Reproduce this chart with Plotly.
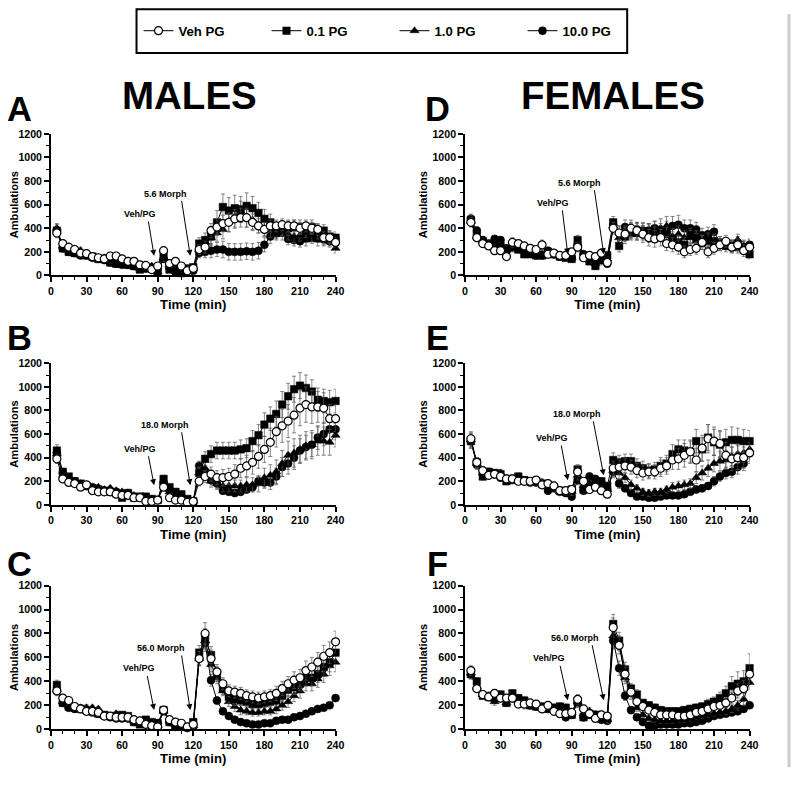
import plotly.graph_objects as go

W, H = 792, 765
OFF_X, OFF_Y = 8, 14     # page offsets of the figure
VIEW_SCALE = 0.987       # observed shrink of the photographed page
time_min = list(range(5, 245, 5))
series_names = ["Veh PG", "0.1 PG", "1.0 PG", "10.0 PG"]
panel_letters = ["A", "B", "C", "D", "E", "F"]
morph_labels = ["5.6 Morph", "18.0 Morph", "56.0 Morph", "5.6 Morph", "18.0 Morph", "56.0 Morph"]
x_ticks = [0, 30, 60, 90, 120, 150, 180, 210, 240]
y_ticks = [0, 200, 400, 600, 800, 1000, 1200]

# ---- Panel A (males, 5.6 morph)
A_veh = [360,270,240,220,190,185,160,150,140,165,165,140,120,120,90,85,50,80,210,100,120,80,40,60,220,240,380,410,440,450,480,490,490,450,420,390,420,420,430,420,420,400,420,400,390,320,320,280]
A_01 = [380,230,200,190,180,170,160,140,140,110,100,100,90,80,50,60,60,30,180,50,50,20,60,70,270,300,330,450,580,550,570,560,590,570,530,480,450,360,400,400,410,410,380,410,370,380,330,320]
A_10 = [400,250,230,200,210,180,160,150,150,120,110,100,90,90,60,70,80,30,150,90,70,40,30,60,220,280,320,360,390,460,500,540,500,470,430,400,380,360,350,350,330,340,300,340,300,300,290,230]
A_100 = [370,230,200,190,170,170,150,140,130,110,100,90,90,80,60,60,50,60,140,60,30,40,50,40,190,200,210,220,220,200,200,200,205,200,210,260,330,380,380,310,300,290,330,320,330,310,290,310]
# ---- Panel B (males, 18.0 morph)
B_veh = [390,220,190,180,150,170,120,110,110,110,90,80,80,60,60,30,30,40,150,60,40,40,20,30,200,240,260,230,230,240,260,310,330,360,410,470,530,620,670,710,760,820,850,830,830,820,730,730]
B_01 = [460,280,240,200,180,160,140,130,120,110,100,60,100,60,70,70,50,40,220,150,110,90,50,30,270,390,430,460,460,460,460,470,480,540,590,680,730,770,850,920,980,1010,990,960,890,880,870,880]
B_10 = [430,250,220,190,180,160,140,150,130,140,120,110,100,80,70,60,50,40,190,110,90,60,40,30,270,310,200,180,160,160,160,160,170,170,180,230,250,280,350,420,440,470,500,510,540,540,530,590]
B_100 = [440,270,220,200,170,160,150,130,120,120,110,80,100,70,60,50,40,40,190,130,90,70,30,30,330,270,210,180,120,110,100,110,130,150,200,190,190,240,320,350,400,460,490,510,570,600,640,640]
# ---- Panel C (males, 56.0 morph)
C_veh = [320,260,240,190,170,150,150,140,110,110,100,100,100,80,70,40,30,20,160,80,60,50,20,40,590,800,590,480,380,320,310,300,280,270,260,270,280,300,340,380,410,430,490,520,560,610,640,730]
C_01 = [370,220,190,180,170,160,150,130,120,110,110,120,110,60,40,80,60,50,160,60,30,20,20,60,640,760,620,460,340,270,250,240,230,210,210,220,230,240,280,330,350,380,430,430,460,520,560,640]
C_10 = [330,230,200,190,180,180,180,170,110,100,130,110,90,70,60,60,40,30,150,70,40,30,20,30,590,740,540,430,320,230,190,160,150,140,140,150,150,170,200,230,280,320,380,380,420,460,530,560]
C_100 = [330,220,180,170,170,150,140,130,110,100,90,90,90,60,50,60,40,50,150,60,20,20,10,20,590,720,410,240,150,110,80,60,50,40,40,50,50,70,80,80,100,110,130,150,170,180,200,260]
# ---- Panel D (females, 5.6 morph)
D_veh = [450,320,270,250,210,210,160,280,270,250,230,220,260,180,190,170,170,200,240,150,170,160,190,110,400,360,350,400,380,350,320,310,320,270,260,240,200,220,230,280,200,230,260,290,240,260,210,240]
D_01 = [470,340,290,260,260,250,220,240,220,180,180,170,170,200,180,160,150,140,300,160,120,80,130,170,450,250,330,360,360,360,370,350,380,350,310,280,260,340,320,280,300,290,260,250,250,240,240,180]
D_10 = [460,330,290,260,250,240,220,230,230,210,200,200,180,190,180,170,160,150,270,160,130,100,120,140,420,320,360,380,370,380,360,380,400,420,330,350,320,320,290,290,280,270,280,270,250,300,250,250]
D_100 = [480,380,300,270,310,300,230,240,230,220,200,170,170,210,180,160,160,150,260,180,130,110,150,100,430,360,410,380,390,380,380,400,360,390,420,430,400,400,390,340,350,370,280,270,250,280,240,260]
# ---- Panel E (females, 18.0 morph)
E_veh = [560,360,290,250,260,240,220,220,200,200,200,210,170,180,160,120,120,130,280,200,130,150,120,90,310,320,330,320,290,270,280,280,310,330,380,390,420,450,380,480,560,540,520,420,390,400,400,440]
E_01 = [540,360,240,280,270,260,200,220,240,210,200,200,180,160,150,120,110,130,300,130,150,190,200,160,380,360,370,370,330,310,290,300,330,350,430,470,460,450,540,470,570,530,510,530,550,550,540,540]
E_10 = [550,350,270,280,260,270,220,210,220,210,200,200,190,170,150,110,110,110,250,160,180,170,180,130,290,270,230,170,140,110,100,110,110,130,150,160,170,180,230,270,310,350,370,380,410,430,440,470]
E_100 = [540,340,280,260,260,230,220,210,220,200,190,190,170,120,140,110,100,70,210,120,240,220,190,130,280,180,140,100,70,70,60,60,70,80,80,80,90,110,130,140,160,200,240,270,280,320,350,440]
# ---- Panel F (females, 56.0 morph)
F_veh = [490,340,290,270,300,260,260,260,210,210,220,210,170,200,150,130,130,140,250,170,130,90,120,110,850,700,460,310,230,190,160,140,120,120,120,110,110,120,140,150,170,190,200,220,260,320,340,460]
F_01 = [460,400,280,270,260,290,220,300,260,240,200,190,190,170,180,190,180,120,230,100,130,120,90,100,880,740,500,340,290,220,200,180,160,150,150,150,160,170,180,190,210,230,260,300,360,380,400,510]
F_10 = [470,350,290,280,230,260,220,260,250,200,210,190,180,190,160,160,160,140,230,130,150,110,100,80,780,720,430,290,180,120,90,80,70,70,70,80,80,90,100,110,120,130,140,150,170,200,250,390]
F_100 = [460,340,290,270,250,260,250,260,230,220,200,190,180,170,160,150,100,120,220,100,120,120,80,70,740,510,280,160,100,60,30,30,40,40,40,40,50,50,60,70,90,110,120,130,140,150,170,200]

# ---- SEM estimates
A_veh_e = [40,30,25,25,25,25,25,20,20,30,30,25,25,25,20,20,20,25,30,25,25,20,20,20,40,50,60,70,70,80,80,80,80,70,60,60,50,50,50,50,50,50,50,50,50,50,50,40]
A_01_e = [50,30,25,25,25,25,20,20,20,20,20,20,20,20,20,20,20,20,30,20,20,15,20,20,50,60,80,100,110,110,110,110,110,100,90,80,70,60,60,60,60,60,60,60,60,50,50,50]
A_10_e = [40,30,25,25,30,25,20,20,20,20,20,20,20,20,20,20,20,20,30,20,20,20,20,20,40,50,60,70,80,90,90,90,90,80,70,60,60,50,50,50,50,50,50,50,50,50,50,40]
A_100_e = [40,30,25,25,25,20,20,20,20,20,20,20,20,20,20,20,20,20,30,20,20,20,20,20,40,50,60,60,70,70,70,70,70,70,70,60,60,60,50,50,50,50,50,50,50,50,40,40]
B_veh_e = [40,30,25,25,25,25,20,20,20,20,20,20,20,20,20,20,20,20,30,20,20,20,20,20,40,50,60,60,70,70,80,80,90,100,100,110,120,130,140,140,150,150,150,140,130,130,120,110]
B_01_e = [50,30,25,25,25,25,20,20,20,20,20,20,20,20,20,20,20,20,30,20,20,20,20,20,50,60,70,70,70,70,70,80,80,90,90,100,100,110,110,110,110,110,110,100,100,100,100,100]
B_10_e = [40,30,25,25,25,25,20,20,20,20,20,20,20,20,20,20,20,20,30,20,20,20,20,20,40,50,50,50,50,50,50,50,60,60,70,80,90,100,110,120,120,120,120,120,120,120,110,100]
B_100_e = [40,30,25,25,25,25,20,20,20,20,20,20,20,20,20,20,20,20,30,20,20,20,20,20,40,40,40,40,30,30,30,30,30,40,40,50,60,70,80,90,100,100,100,100,100,100,100,90]
C_veh_e = [40,30,25,25,25,25,20,20,20,20,20,20,20,20,20,20,20,20,30,20,20,20,20,20,60,90,70,60,50,50,50,50,50,50,50,50,50,60,60,60,70,70,80,80,80,90,90,90]
C_01_e = [40,30,25,25,25,25,20,20,20,20,20,20,20,20,20,20,20,20,30,20,20,20,20,20,60,80,70,60,50,50,50,40,40,40,40,40,40,50,50,60,60,60,70,70,70,80,80,80]
C_10_e = [40,30,25,25,25,25,20,20,20,20,20,20,20,20,20,20,20,20,30,20,20,20,20,20,60,70,60,50,40,40,40,40,30,30,30,30,30,40,40,50,50,60,60,60,70,70,80,80]
C_100_e = [40,30,25,25,25,25,20,20,20,20,20,20,20,20,20,20,20,20,30,20,20,20,20,20,50,70,50,30,20,20,15,15,15,15,15,15,15,15,15,15,20,20,20,20,20,20,20,30]
D_veh_e = [40,30,30,30,30,30,30,40,30,30,30,30,40,30,30,30,30,30,40,30,30,30,30,30,50,60,60,70,70,70,70,70,70,60,60,60,50,50,50,60,50,50,50,50,50,50,50,50]
D_01_e = [40,30,30,30,30,30,30,30,30,30,30,30,30,30,30,30,30,30,40,30,30,30,30,30,50,50,60,60,60,60,60,60,60,60,60,60,60,60,60,60,60,60,50,50,50,50,50,40]
D_10_e = [40,30,30,30,30,30,30,30,30,30,30,30,30,30,30,30,30,30,40,30,30,30,30,30,50,60,60,70,70,70,80,80,80,80,70,70,60,60,60,50,50,50,50,50,50,50,50,50]
D_100_e = [40,30,30,30,30,30,30,30,30,30,30,30,30,30,30,30,30,30,40,30,30,30,30,30,50,60,60,60,60,60,60,60,60,70,80,80,70,70,60,60,60,60,50,50,50,50,50,50]
E_veh_e = [60,40,30,30,30,30,30,30,30,30,30,30,30,30,30,30,30,30,40,30,30,30,30,30,60,60,60,60,60,60,60,60,70,70,80,90,100,100,100,110,120,120,110,110,100,100,90,90]
E_01_e = [60,40,30,30,30,30,30,30,30,30,30,30,30,30,30,30,30,30,40,30,30,30,30,30,60,60,60,60,60,60,60,60,70,70,80,80,90,90,100,100,110,110,110,110,110,100,100,90]
E_10_e = [60,40,30,30,30,30,30,30,30,30,30,30,30,30,30,30,30,30,40,30,30,30,30,30,50,50,40,40,30,30,30,30,30,30,40,40,40,40,50,60,70,70,80,80,80,80,80,80]
E_100_e = [60,40,30,30,30,30,30,30,30,30,30,30,30,30,30,30,30,30,40,30,30,30,30,30,50,40,30,20,20,20,20,20,20,20,20,20,20,20,30,30,30,40,40,50,50,60,60,70]
F_veh_e = [40,30,30,30,30,30,30,30,30,30,30,30,30,30,30,30,30,30,40,30,30,30,30,30,80,70,60,40,30,30,30,20,20,20,20,20,20,20,20,20,30,30,30,40,50,60,70,80]
F_01_e = [40,30,30,30,30,30,30,30,30,30,30,30,30,30,30,30,30,30,40,30,30,30,30,30,80,70,60,40,40,30,30,30,30,30,30,30,30,30,30,30,40,40,50,60,80,100,90,120]
F_10_e = [40,30,30,30,30,30,30,30,30,30,30,30,30,30,30,30,30,30,40,30,30,30,30,30,70,60,50,40,30,20,20,20,20,20,20,20,20,20,20,20,20,20,20,30,30,40,50,60]
F_100_e = [40,30,30,30,30,30,30,30,30,30,30,30,30,30,30,30,30,30,40,30,30,30,30,30,70,60,40,30,20,20,20,20,20,20,20,20,20,20,20,20,20,20,20,20,20,20,20,30]

panels = [
    ([A_veh, A_01, A_10, A_100], [A_veh_e, A_01_e, A_10_e, A_100_e]),
    ([B_veh, B_01, B_10, B_100], [B_veh_e, B_01_e, B_10_e, B_100_e]),
    ([C_veh, C_01, C_10, C_100], [C_veh_e, C_01_e, C_10_e, C_100_e]),
    ([D_veh, D_01, D_10, D_100], [D_veh_e, D_01_e, D_10_e, D_100_e]),
    ([E_veh, E_01, E_10, E_100], [E_veh_e, E_01_e, E_10_e, E_100_e]),
    ([F_veh, F_01, F_10, F_100], [F_veh_e, F_01_e, F_10_e, F_100_e]),
]

# annotation positions (data units) per panel: veh text, veh tail, veh tip, morph text, morph tail, morph tip
ann_pos = [
    ((75, 520), (82, 470), (87, 166), (97, 694), (110, 645), (117.5, 166)),
    ((75, 475), (82, 425), (87, 166), (96, 677), (110, 628), (117.5, 166)),
    ((74, 508), (81, 458), (87, 160), (93, 676), (110, 628), (117.5, 160)),
    ((74, 615), (82, 565), (86.7, 180), (97, 784), (109, 735), (117, 180)),
    ((73, 565), (81, 515), (86.7, 208), (94.5, 770), (108, 720), (117, 250)),
    ((71, 592), (80, 542), (86.7, 243), (93, 765), (107, 715), (117, 243)),
]

FONT = "Liberation Sans, Arial, sans-serif"

def px_x(p):
    return (p / VIEW_SCALE - OFF_X) / W

def px_y(p):
    return 1 - (p / VIEW_SCALE - OFF_Y) / H

def fs(v):
    return v / VIEW_SCALE

x_domains = [(46, 332), (46, 332), (46, 332), (462, 748), (462, 748), (462, 748)]
y_domains = [(134, 276), (364, 506), (587, 731), (134, 276), (364, 506), (587, 731)]

marker_styles = [
    dict(symbol="circle", size=8, color="white", line=dict(color="black", width=1.2)),
    dict(symbol="square", size=7.5, color="black", line=dict(color="black", width=0.5)),
    dict(symbol="triangle-up", size=8, color="black", line=dict(color="black", width=0.5)),
    dict(symbol="circle", size=8, color="black", line=dict(color="black", width=0.5)),
]

fig = go.Figure()
layout = dict()
annotations = []
draw_order = [3, 2, 1, 0]
for i, (vals, errs) in enumerate(panels):
    ax_id = "" if i == 0 else str(i + 1)
    xa, ya = "x" + ax_id, "y" + ax_id
    for s in draw_order:
        fig.add_trace(go.Scatter(
            x=time_min, y=vals[s], mode="lines+markers", name=series_names[s],
            xaxis=xa, yaxis=ya, showlegend=(i == 0), legendrank=s,
            line=dict(color="black", width=1), marker=marker_styles[s],
            error_y=dict(type="data", array=errs[s], visible=True, color="#555", thickness=0.7, width=2),
            cliponaxis=False,
        ))
    xd, yd = x_domains[i], y_domains[i]
    layout["xaxis" + ax_id] = dict(
        domain=[px_x(xd[0]), px_x(xd[1])], range=[0, 240], anchor=ya,
        tickvals=x_ticks, ticks="outside", ticklen=5, tickwidth=1.5, tickcolor="black",
        showline=True, linewidth=1.5, linecolor="black", showgrid=False, zeroline=False,
        minor=dict(dtick=10, tick0=0, ticks="outside", ticklen=3, tickwidth=1.2, tickcolor="black", showgrid=False),
        tickfont=dict(family=FONT, size=fs(10.5), color="black", weight="bold"),
        title=dict(text="Time (min)", font=dict(family=FONT, size=fs(13), color="black", weight="bold"), standoff=4),
    )
    layout["yaxis" + ax_id] = dict(
        domain=[px_y(yd[1]), px_y(yd[0])], range=[0, 1200], anchor=xa,
        tickvals=y_ticks, ticks="outside", ticklen=5, tickwidth=1.5, tickcolor="black",
        showline=True, linewidth=1.5, linecolor="black", showgrid=False, zeroline=False,
        minor=dict(dtick=100, tick0=0, ticks="outside", ticklen=3, tickwidth=1.2, tickcolor="black", showgrid=False),
        tickfont=dict(family=FONT, size=fs(10.5), color="black", weight="bold"),
        title=dict(text="Ambulations", font=dict(family=FONT, size=fs(11), color="black", weight="bold"), standoff=3),
    )
    vt, vtail, vtip, mt, mtail, mtip = ann_pos[i]
    annotations.append(dict(x=vt[0], y=vt[1], xref=xa, yref=ya, text="Veh/PG", showarrow=False,
                            font=dict(family=FONT, size=9, color="black", weight="bold")))
    annotations.append(dict(x=mt[0], y=mt[1], xref=xa, yref=ya, text=morph_labels[i], showarrow=False,
                            font=dict(family=FONT, size=9, color="black", weight="bold")))
    for tail, tip in ((vtail, vtip), (mtail, mtip)):
        annotations.append(dict(x=tip[0], y=tip[1], ax=tail[0], ay=tail[1], xref=xa, yref=ya,
                                axref=xa, ayref=ya, text="", showarrow=True, arrowhead=2,
                                arrowsize=1.2, arrowwidth=1, arrowcolor="black"))
    # panel letter
    lx = 14 if i < 3 else 434
    ly = [109, 339, 565][i % 3]
    annotations.append(dict(x=px_x(lx), y=px_y(ly), xref="paper", yref="paper", text=panel_letters[i],
                            xanchor="center", yanchor="middle", showarrow=False,
                            font=dict(family=FONT, size=fs(34), color="black", weight="bold")))

annotations.append(dict(x=px_x(185), y=px_y(96), xref="paper", yref="paper", text="MALES", showarrow=False,
                        xanchor="center", yanchor="middle",
                        font=dict(family=FONT, size=fs(38), color="black", weight="bold")))
annotations.append(dict(x=px_x(611), y=px_y(96), xref="paper", yref="paper", text="FEMALES", showarrow=False,
                        xanchor="center", yanchor="middle",
                        font=dict(family=FONT, size=fs(38), color="black", weight="bold")))

shapes = [
    dict(type="rect", xref="paper", yref="paper", x0=px_x(132), x1=px_x(625), y0=px_y(9), y1=px_y(53),
         line=dict(color="black", width=2), fillcolor="rgba(0,0,0,0)"),
    dict(type="line", xref="paper", yref="paper", x0=(W - 2) / W, x1=(W - 2) / W, y0=0, y1=1,
         line=dict(color="#cccccc", width=3)),
]

fig.update_layout(
    **layout,
    width=W, height=H, margin=dict(l=0, r=0, t=0, b=0),
    paper_bgcolor="white", plot_bgcolor="white",
    annotations=annotations, shapes=shapes,
    legend=dict(orientation="h", x=px_x(134), y=px_y(31), xanchor="left", yanchor="middle",
                font=dict(family=FONT, size=fs(13), color="black", weight="bold"),
                entrywidth=83, entrywidthmode="pixels", bgcolor="rgba(0,0,0,0)", borderwidth=0,
                traceorder="normal"),
)

fig.write_html("out.html")
